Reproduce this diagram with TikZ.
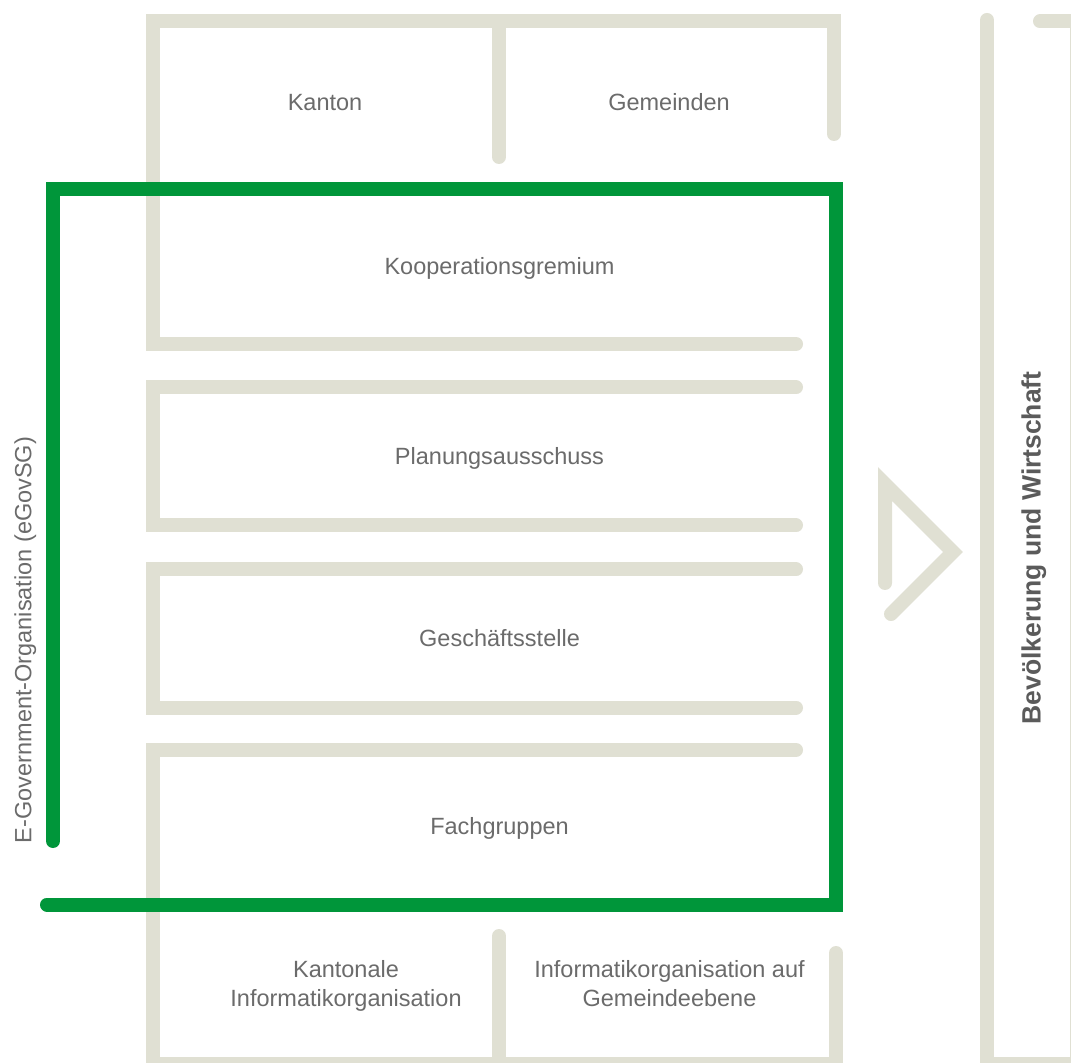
\documentclass[tikz,border=0pt]{standalone}
\usepackage{fontspec}
\setmainfont{Liberation Sans}
\definecolor{beige}{HTML}{E0E0D3}
\definecolor{egovgreen}{HTML}{00963A}
\definecolor{textgray}{HTML}{6B6B6B}
\tikzset{
	wall/.style={draw=beige, line width=7pt, line cap=round},
	egovline/.style={draw=egovgreen, line width=7pt, line cap=round},
	boxtext/.style={text=textgray, inner sep=0pt, align=center},
	sidetext/.style={text=textgray!85!black, inner sep=0pt, rotate=90, anchor=base}
}
\begin{document}
\begin{tikzpicture}[x=0.5pt, y=-0.5pt, font=\fontsize{11.75}{14.5}\selectfont]
		\useasboundingbox[fill=white] (0,0) rectangle (1071,1063);

		\draw[wall] (834,134) -- (834,21.5) -- (153,21.5) -- (153,344) -- (796,344);
		\draw[wall] (499,21.5) -- (499,157);
		\draw[wall] (796,387.5) -- (153,387.5) -- (153,525.5) -- (796,525.5);
		\draw[wall] (796,569.5) -- (153,569.5) -- (153,707.5) -- (796,707.5);
		\draw[wall] (796,750) -- (153,750) -- (153,1063.7) -- (836,1063.7) -- (836,953);
		\draw[wall] (499,936) -- (499,1063.7);
		\draw[wall] (1040,21.5) -- (1077,21.5) -- (1077,1063.7) -- (987,1063.7) -- (987,20);
		\draw[wall] (885,583) -- (885,484) -- (953,552) -- (891,614);
		\draw[egovline] (53,841) -- (53,189.5) -- (836,189.5) -- (836,904.5) -- (47,904.5);

		\node[boxtext, anchor=base] (kanton) at (325,111) {Kanton};
		\node[boxtext, anchor=base] (gemeinden) at (669,111) {Gemeinden};
		\node[boxtext, anchor=base] (koop) at (499.5,274.5) {Kooperationsgremium};
		\node[boxtext, anchor=base] (planung) at (499.5,465) {Planungsausschuss};
		\node[boxtext, anchor=base] (gs) at (499.5,646.5) {Geschäftsstelle};
		\node[boxtext, anchor=base] (fach) at (499.5,834.5) {Fachgruppen};
		\node[boxtext] (kio) at (346,986) {Kantonale\\Informatikorganisation};
		\node[boxtext] (gio) at (669.5,984) {Informatikorganisation auf\\Gemeindeebene};
		\node[sidetext, text=textgray] (egov) at (31.5,640) {E-Government-Organisation (eGovSG)};
		\node[sidetext, font=\fontsize{13.25}{16}\selectfont\bfseries] (bw) at (1040.5,548) {Bevölkerung und Wirtschaft};
	\end{tikzpicture}
\end{document}
